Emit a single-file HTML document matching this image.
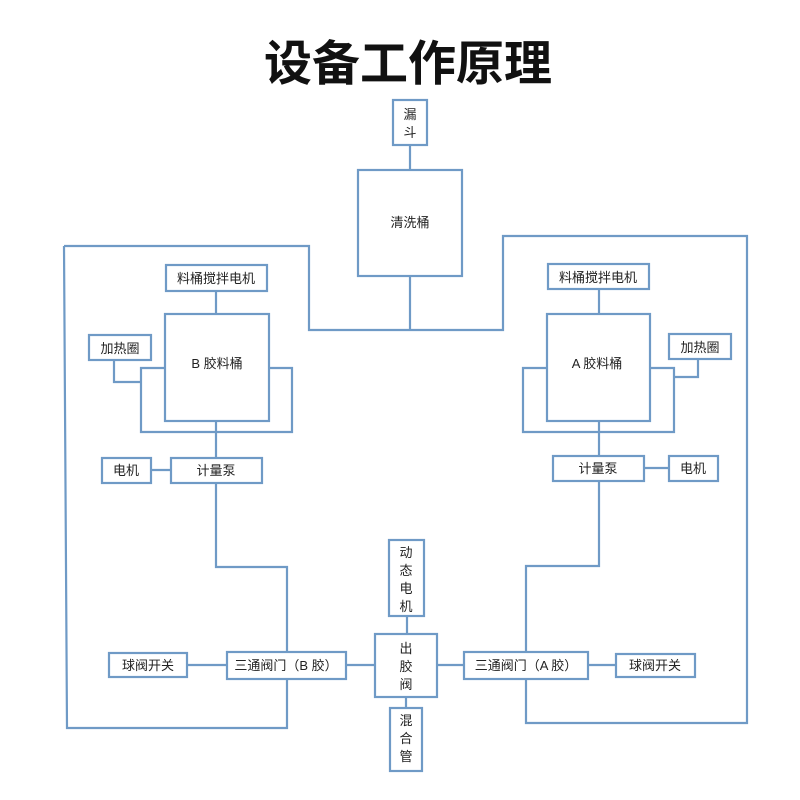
<!DOCTYPE html>
<html><head><meta charset="utf-8"><style>
body{margin:0;background:#fff}
svg{display:block}
text{font-family:"Liberation Sans","Noto Sans CJK SC",sans-serif;font-size:13px;fill:#222}
</style></head><body>
<svg width="800" height="800" viewBox="0 0 800 800">
<text x="408" y="80" text-anchor="middle" style="font-size:48px;font-weight:bold;fill:#111">设备工作原理</text>
<g fill="#fff" stroke="#6f9ac6" stroke-width="2.2">
<!-- connectors -->
<polyline fill="none" points="410,145 410,170"/>
<polyline fill="none" points="410,276 410,330"/>
<polyline fill="none" points="64,246 309,246 309,330 503,330 503,236 747,236 747,723 526,723 526,679"/>
<polyline fill="none" points="287,679 287,728 67,728 64,246"/>
<!-- B side -->
<line x1="216" y1="291" x2="216" y2="314"/>
<polyline fill="none" points="165,368 141,368 141,432 292,432 292,368 269,368"/>
<polyline fill="none" points="114,360 114,382 141,382"/>
<line x1="216" y1="421" x2="216" y2="458"/>
<line x1="151" y1="470" x2="171" y2="470"/>
<polyline fill="none" points="216,483 216,567 287,567 287,652"/>
<line x1="187" y1="665" x2="227" y2="665"/>
<line x1="346" y1="665" x2="375" y2="665"/>
<!-- A side -->
<line x1="599" y1="289" x2="599" y2="314"/>
<polyline fill="none" points="547,368 523,368 523,432 674,432 674,368 650,368"/>
<polyline fill="none" points="698,359 698,377 674,377"/>
<line x1="599" y1="421" x2="599" y2="456"/>
<line x1="644" y1="468" x2="669" y2="468"/>
<polyline fill="none" points="599,481 599,566 526,566 526,652"/>
<line x1="588" y1="665" x2="616" y2="665"/>
<line x1="437" y1="665" x2="464" y2="665"/>
<line x1="407" y1="616" x2="407" y2="634"/>
<line x1="406" y1="697" x2="406" y2="708"/>
<!-- boxes -->
<rect x="393" y="100" width="34" height="45"/>
<rect x="358" y="170" width="104" height="106"/>
<rect x="166" y="265" width="101" height="26"/>
<rect x="165" y="314" width="104" height="107"/>
<rect x="89" y="335" width="62" height="25"/>
<rect x="171" y="458" width="91" height="25"/>
<rect x="102" y="458" width="49" height="25"/>
<rect x="227" y="652" width="119" height="27"/>
<rect x="109" y="653" width="78" height="24"/>
<rect x="375" y="634" width="62" height="63"/>
<rect x="389" y="540" width="35" height="76"/>
<rect x="390" y="708" width="32" height="63"/>
<rect x="548" y="264" width="101" height="25"/>
<rect x="547" y="314" width="103" height="107"/>
<rect x="669" y="334" width="62" height="25"/>
<rect x="553" y="456" width="91" height="25"/>
<rect x="669" y="456" width="49" height="25"/>
<rect x="464" y="652" width="124" height="27"/>
<rect x="616" y="654" width="79" height="23"/>
</g>
<g text-anchor="middle">
<text x="410" y="119">漏</text><text x="410" y="137">斗</text>
<text x="410" y="227">清洗桶</text>
<text x="216" y="283">料桶搅拌电机</text>
<text x="217" y="368">B 胶料桶</text>
<text x="120" y="353">加热圈</text>
<text x="216" y="475">计量泵</text>
<text x="126" y="475">电机</text>
<text x="286" y="670">三通阀门（B 胶）</text>
<text x="148" y="670">球阀开关</text>
<text x="406" y="557">动</text><text x="406" y="575">态</text><text x="406" y="593">电</text><text x="406" y="611">机</text>
<text x="406" y="653">出</text><text x="406" y="671">胶</text><text x="406" y="689">阀</text>
<text x="406" y="725">混</text><text x="406" y="743">合</text><text x="406" y="761">管</text>
<text x="598" y="282">料桶搅拌电机</text>
<text x="597" y="368">A 胶料桶</text>
<text x="700" y="352">加热圈</text>
<text x="598" y="473">计量泵</text>
<text x="693" y="473">电机</text>
<text x="526" y="670">三通阀门（A 胶）</text>
<text x="655" y="670">球阀开关</text>
</g>
</svg>
</body></html>
